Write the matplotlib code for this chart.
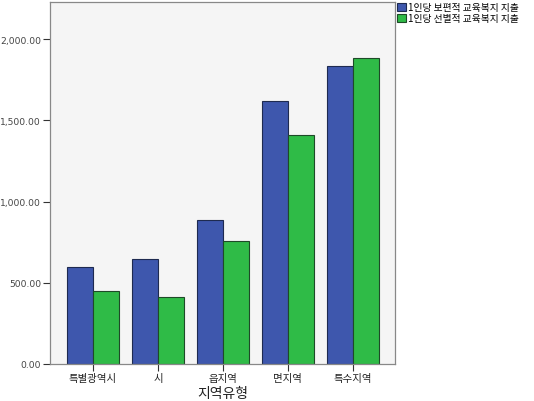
import matplotlib
matplotlib.use("Agg")
import matplotlib.pyplot as plt
import numpy as np

plt.rcParams['font.family'] = ['Noto Sans CJK KR', 'DejaVu Sans']

categories = ['특별광역시', '시', '읍지역', '면지역', '특수지역']
series_names = ['1인당 보편적 교육복지 지출', '1인당 선별적 교육복지 지출']
universal = [600, 648, 884, 1618, 1834]
selective = [448, 410, 757, 1407, 1886]
yticks = [0, 500, 1000, 1500, 2000]

blue = '#3E57AD'
green = '#2FBB47'

fig = plt.figure(figsize=(5.34, 4.02), dpi=100)
ax = fig.add_axes([50/534, 1 - 365/402, 345/534, 362/402])
ax.set_facecolor('#F5F5F5')

x = np.arange(len(categories))
w = 0.4
ax.bar(x - w/2, universal, width=w, color=blue, edgecolor='#1E2A50', linewidth=0.8, label=series_names[0])
ax.bar(x + w/2, selective, width=w, color=green, edgecolor='#1E4A28', linewidth=0.8, label=series_names[1])

ax.set_xlim(-0.66, 4.65)
ax.set_ylim(0, 2228)
ax.set_xticks(x)
ax.set_xticklabels(categories, fontsize=7.5, color='#222222')
ax.set_yticks(yticks)
ax.set_yticklabels([f'{v:,.2f}' for v in yticks], fontsize=6.6, color='#444444',
                   family=['DejaVu Sans'])
ax.tick_params(axis='both', direction='out', length=5, width=0.8, color='#333333', pad=1.5)
for s in ax.spines.values():
    s.set_color('#888888')
    s.set_linewidth(0.9)

ax.set_xlabel('지역유형', fontsize=10, color='#222222', labelpad=2)

leg = fig.legend(loc='upper left', bbox_to_anchor=(396/534, 1 - 2/402), fontsize=7,
                 frameon=False, handlelength=0.9, handleheight=0.9, handletextpad=0.25,
                 labelspacing=0.15, borderaxespad=0, borderpad=0.1)

fig.savefig('out.png', dpi=100, facecolor='white')
